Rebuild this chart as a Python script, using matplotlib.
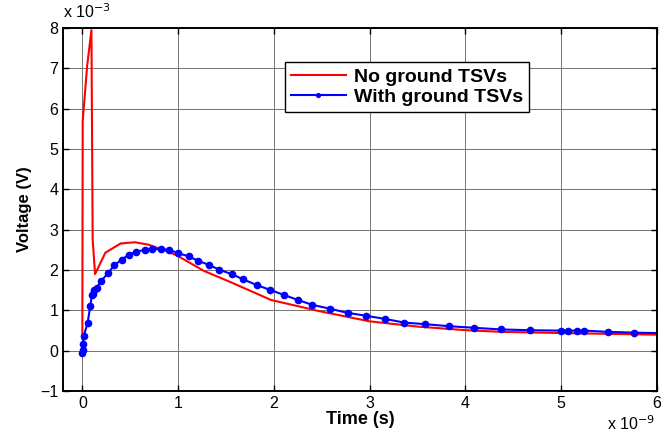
import matplotlib.pyplot as plt

plt.rcParams['font.family'] = ['Liberation Sans', 'DejaVu Sans']

# time in units of 1e-9 s, voltage in units of 1e-3 V
t_no = [0, 0.004, 0.05, 0.095, 0.108, 0.133, 0.24, 0.40, 0.55, 0.69, 0.85, 0.99,
        1.27, 1.55, 1.97, 2.46, 3.0, 3.5, 4.01, 4.38, 5.0, 5.5, 6.0]
v_no = [0.3, 5.7, 7.05, 7.95, 2.75, 1.9, 2.43, 2.66, 2.69, 2.63, 2.5, 2.36,
        1.98, 1.70, 1.26, 0.99, 0.73, 0.60, 0.51, 0.47, 0.44, 0.42, 0.40]

t_gnd = [0, 0.002, 0.005, 0.014, 0.055, 0.084, 0.10, 0.11, 0.126, 0.15, 0.20, 0.27,
         0.335, 0.41, 0.485, 0.565, 0.65, 0.73, 0.82, 0.91, 1.0, 1.11, 1.21, 1.32,
         1.43, 1.56, 1.68, 1.82, 1.96, 2.11, 2.25, 2.40, 2.59, 2.77, 2.96, 3.16,
         3.36, 3.58, 3.83, 4.09, 4.37, 4.67, 5.0, 5.07, 5.16, 5.24, 5.49, 5.76]
v_gnd = [-0.05, 0.02, 0.17, 0.36, 0.69, 1.12, 1.38, 1.40, 1.51, 1.56, 1.74, 1.93,
         2.12, 2.26, 2.38, 2.46, 2.50, 2.52, 2.52, 2.50, 2.42, 2.34, 2.23, 2.13,
         2.01, 1.90, 1.77, 1.63, 1.51, 1.38, 1.26, 1.14, 1.04, 0.94, 0.87, 0.79,
         0.70, 0.66, 0.61, 0.57, 0.53, 0.51, 0.50, 0.50, 0.50, 0.50, 0.47, 0.45]
t_gnd_end = [5.76, 6.0]
v_gnd_end = [0.45, 0.44]

fig = plt.figure(figsize=(6.65, 4.44), dpi=100)
ax = fig.add_axes([0.095, 0.119, 0.893, 0.818])

ax.plot(t_no, v_no, color='#ff0000', lw=1.5, label='No ground TSVs')
ax.plot(t_gnd, v_gnd, color='#0000ff', lw=1.5, marker='o', ms=4.5,
        label='With ground TSVs')
ax.plot(t_gnd_end, v_gnd_end, color='#0000ff', lw=1.5)

ax.set_xlim(-0.2, 6)
ax.set_ylim(-1, 8)
ax.set_xticks(range(0, 7))
ax.set_yticks(range(-1, 9))
ax.grid(True, color='0.45', lw=0.7)
ax.tick_params(direction='in', top=True, right=True, labelsize=11.5, length=4, width=1)
for s in ax.spines.values():
    s.set_linewidth(1.4)

ax.set_xlabel('Time (s)', fontweight='bold', fontsize=13, labelpad=0)
ax.set_ylabel('Voltage (V)', fontweight='bold', fontsize=12, labelpad=6)

fig.text(0.095, 0.952, r'x 10$^{-3}$', fontsize=11.5, ha='left', va='bottom')
fig.text(0.985, 0.025, r'x 10$^{-9}$', fontsize=11.5, ha='right', va='bottom')

leg = ax.legend(loc='upper left', bbox_to_anchor=(0.374, 0.906), fancybox=False,
                framealpha=1, edgecolor='black', prop={'weight': 'bold', 'size': 14},
                borderpad=0.3, labelspacing=0.15, handlelength=2.8, handletextpad=0.45,
                borderaxespad=0, markerscale=0.6)
leg.get_frame().set_linewidth(1.0)

fig.savefig('out.png', dpi=100)
